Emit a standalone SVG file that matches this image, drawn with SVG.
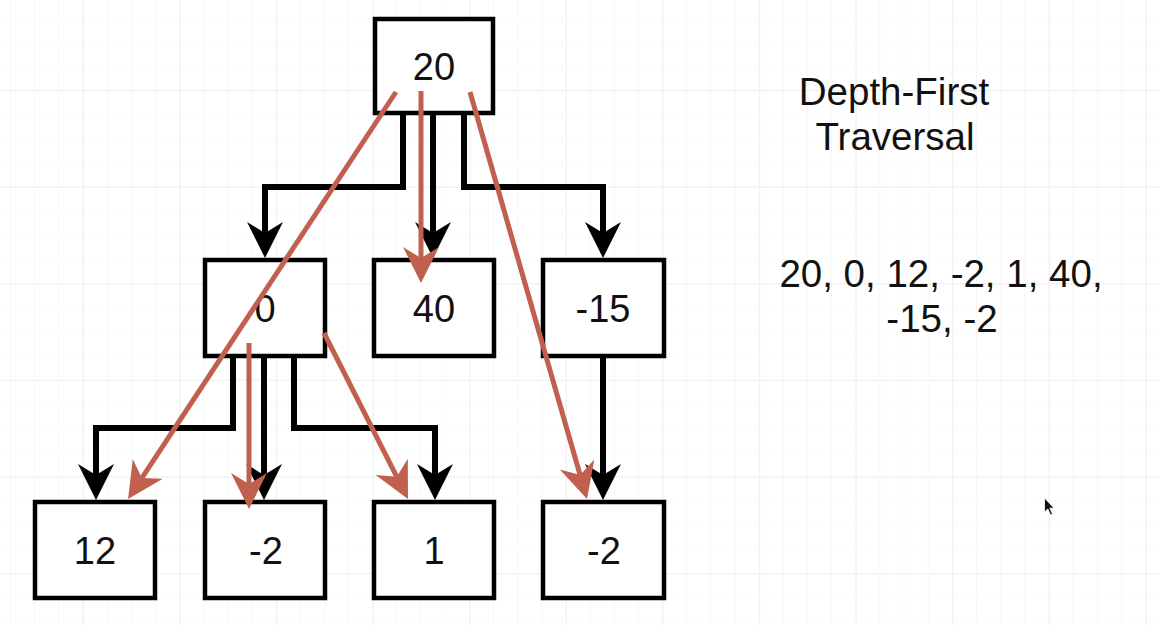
<svg xmlns="http://www.w3.org/2000/svg" width="1160" height="625" viewBox="0 0 1160 625">
  <style>
    .box { fill: #ffffff; stroke: #000000; stroke-width: 4.5; }
    .val { font-family: "Liberation Sans", Arial, sans-serif; font-size: 38px; fill: #111111; text-anchor: middle; }
    .note { font-family: "Liberation Sans", Arial, sans-serif; font-size: 38.5px; fill: #111111; text-anchor: middle; }
    .edge { fill: none; stroke: #000000; stroke-width: 6; stroke-linejoin: miter; marker-end: url(#arrowBlack); }
    .visit { fill: none; stroke: #C1604F; stroke-width: 5; marker-end: url(#arrowRed); }
  </style>
  <defs>
    <pattern id="gridMinor" x="10" y="18" width="24.15" height="24.15" patternUnits="userSpaceOnUse">
      <path d="M0,0 V24.15 M0,0 H24.15" fill="none" stroke="#f3f3f3" stroke-width="1.2"/>
    </pattern>
    <pattern id="gridMajor" x="83" y="90" width="96.6" height="96.6" patternUnits="userSpaceOnUse">
      <path d="M0,0 V96.6 M0,0 H96.6" fill="none" stroke="#ececec" stroke-width="1.4"/>
    </pattern>
    <!-- classic notched arrowheads; refX sits on the notch so the line ends inside the head -->
    <marker id="arrowBlack" viewBox="0 0 36 36" refX="11" refY="18" markerWidth="36" markerHeight="36" markerUnits="userSpaceOnUse" orient="auto">
      <path d="M36,18 L0,0 L11,18 L0,36 Z" fill="#000000"/>
    </marker>
    <marker id="arrowRed" viewBox="0 0 36 36" refX="11" refY="18" markerWidth="36" markerHeight="36" markerUnits="userSpaceOnUse" orient="auto">
      <path d="M36,18 L0,0 L11,18 L0,36 Z" fill="#C1604F"/>
    </marker>
  </defs>

  <!-- canvas background grid -->
  <rect x="0" y="0" width="1160" height="625" fill="#ffffff"/>
  <rect x="0" y="0" width="1160" height="625" fill="url(#gridMinor)"/>
  <rect x="0" y="0" width="1160" height="625" fill="url(#gridMajor)"/>

  <!-- tree nodes -->
  <g id="node-root">
    <rect class="box" x="375" y="19" width="118" height="94"/>
    <text class="val" x="434" y="80">20</text>
  </g>
  <g id="node-0">
    <rect class="box" x="205" y="260" width="120" height="96"/>
    <text class="val" x="265" y="322">0</text>
  </g>
  <g id="node-40">
    <rect class="box" x="374" y="260" width="120" height="96"/>
    <text class="val" x="434" y="322">40</text>
  </g>
  <g id="node-neg15">
    <rect class="box" x="543" y="260" width="121" height="96"/>
    <text class="val" x="603" y="322">-15</text>
  </g>
  <g id="node-12">
    <rect class="box" x="35" y="502" width="120" height="96"/>
    <text class="val" x="95" y="564">12</text>
  </g>
  <g id="node-neg2a">
    <rect class="box" x="205" y="502" width="120" height="96"/>
    <text class="val" x="266" y="564">-2</text>
  </g>
  <g id="node-1">
    <rect class="box" x="374" y="502" width="120" height="96"/>
    <text class="val" x="434" y="564">1</text>
  </g>
  <g id="node-neg2b">
    <rect class="box" x="543" y="502" width="121" height="96"/>
    <text class="val" x="604" y="564">-2</text>
  </g>

  <!-- connectors: tree edges (black) and visiting order (red) -->
  <g id="connectors">
    <path class="edge" d="M403,115 V187 H265 V233"/>
    <path class="edge" d="M433,115 V233"/>
    <path class="edge" d="M464,115 V187 H603 V233"/>
    <path class="edge" d="M233,358 V428 H96 V475"/>
    <path class="edge" d="M264,358 V475"/>
    <path class="edge" d="M294,358 V428 H435 V475"/>
    <path class="edge" d="M603,358 V475"/>

    <path class="visit" d="M396,92 L141.8,478.1"/>
    <path class="visit" d="M421,91 L421,258"/>
    <path class="visit" d="M470,92 L580.1,475"/>
    <path class="visit" d="M249,343 L249,484"/>
    <path class="visit" d="M324,333 L396.7,476.7"/>
  </g>

  <!-- caption -->
  <g id="caption">
    <text class="note" x="894" y="105">Depth-First</text>
    <text class="note" x="895" y="150">Traversal</text>
    <text class="note" x="941" y="287">20, 0, 12, -2, 1, 40,</text>
    <text class="note" x="942" y="332">-15, -2</text>
  </g>

  <!-- mouse pointer -->
  <path d="M1044.5,498 L1044.5,512 L1047.8,509 L1050.5,515 L1052.5,514 L1049.8,508.2 L1054,508 Z" fill="#111111" stroke="#ffffff" stroke-width="0.8"/>
</svg>
